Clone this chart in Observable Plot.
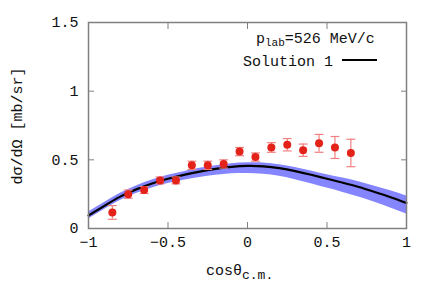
<!DOCTYPE html>
<html><head><meta charset="utf-8">
<script src="https://cdn.jsdelivr.net/npm/d3@7"></script>
<script src="https://cdn.jsdelivr.net/npm/@observablehq/plot@0.6"></script>
<style>
body{margin:0;background:#fff;}
#wrap{position:relative;width:436px;height:305px;font-family:"Liberation Mono",monospace;}
.leg{position:absolute;font-size:15px;color:#111;white-space:nowrap;}
</style></head>
<body><div id="wrap"></div>
<script>
// experimental data
const cosData = [-0.85,-0.75,-0.65,-0.55,-0.45,-0.35,-0.25,-0.15,-0.05,0.05,0.15,0.25,0.35,0.45,0.55,0.65];
const xsData  = [0.117,0.25,0.28,0.35,0.35,0.46,0.46,0.47,0.56,0.52,0.59,0.61,0.57,0.62,0.59,0.55];
const errData = [0.05,0.03,0.025,0.025,0.025,0.03,0.03,0.03,0.03,0.03,0.035,0.045,0.045,0.065,0.08,0.1];
// Solution 1 curve and its uncertainty band
const cosCurve = [-1,-0.9,-0.8,-0.7,-0.6,-0.5,-0.4,-0.3,-0.2,-0.1,0,0.1,0.2,0.3,0.4,0.5,0.6,0.7,0.8,0.9,1];
const sol1     = [0.095,0.165,0.232,0.285,0.328,0.362,0.39,0.414,0.434,0.449,0.456,0.453,0.44,0.418,0.391,0.362,0.333,0.302,0.266,0.228,0.186];
const bandLo   = [0.07,0.138,0.203,0.254,0.295,0.327,0.351,0.371,0.387,0.398,0.401,0.395,0.38,0.355,0.326,0.294,0.263,0.229,0.191,0.15,0.106];
const bandHi   = [0.12,0.19,0.257,0.31,0.353,0.387,0.414,0.438,0.457,0.472,0.478,0.477,0.465,0.445,0.419,0.392,0.367,0.34,0.308,0.274,0.236];
const xTicks = [-1,-0.5,0,0.5,1];
const yTicks = [0,0.5,1,1.5];

const pts = cosData.map((c,i)=>({x:c,y:xsData[i],lo:xsData[i]-errData[i],hi:xsData[i]+errData[i]}));
const curve = cosCurve.map((c,i)=>({x:c,y:sol1[i],lo:bandLo[i],hi:bandHi[i]}));
const cap = {draw(ctx,size){const r=Math.sqrt(size);ctx.moveTo(-r,0);ctx.lineTo(r,0);}};
const axisColor="#808080";
const fnt = {fontFamily:"Liberation Mono, monospace", fontSize:15, fill:"#111"};

const chart = Plot.plot({
  width:436, height:305,
  marginLeft:88, marginRight:30, marginTop:22, marginBottom:77,
  x:{domain:[-1,1]}, y:{domain:[0,1.5]},
  style:{fontFamily:"Liberation Mono, monospace", fontSize:"15px", color:"#111", background:"#fff"},
  marks:[
    Plot.areaY(curve,{x:"x",y1:"lo",y2:"hi",fill:"#8585ff",curve:"natural"}),
    Plot.line(curve,{x:"x",y:"y",stroke:"#000",strokeWidth:2.2,curve:"natural"}),
    Plot.ruleX(pts,{x:"x",y1:"lo",y2:"hi",stroke:"#f08080",strokeWidth:1.2}),
    Plot.dot(pts,{x:"x",y:"lo",symbol:cap,r:2.5,stroke:"#f08080",strokeWidth:1.2}),
    Plot.dot(pts,{x:"x",y:"hi",symbol:cap,r:2.5,stroke:"#f08080",strokeWidth:1.2}),
    Plot.dot(pts,{x:"x",y:"y",r:4,fill:"#e3221a",stroke:"none"}),
    Plot.frame({stroke:axisColor,strokeWidth:1.5}),
    Plot.axisX({ticks:xTicks,tickSize:-6,text:null,stroke:axisColor,label:null}),
    Plot.axisX({ticks:xTicks,anchor:"top",tickSize:-6,text:null,stroke:axisColor,label:null}),
    Plot.axisY({ticks:yTicks,tickSize:-6,text:null,stroke:axisColor,label:null}),
    Plot.axisY({ticks:yTicks,anchor:"right",tickSize:-6,text:null,stroke:axisColor,label:null}),
    Plot.axisX({ticks:xTicks,tickSize:0,tickPadding:8,label:null,tickFormat:d=>String(d).replace("-","\u2212"),...fnt}),
    Plot.axisY({ticks:yTicks,tickSize:0,tickPadding:10,label:null,tickFormat:d=>String(d),...fnt})
  ]
});
const wrap=document.getElementById("wrap");
wrap.appendChild(chart);

function addDiv(html,style){const d=document.createElement("div");d.className="leg";d.innerHTML=html;Object.assign(d.style,style);wrap.appendChild(d);}
addDiv('p<sub style="font-size:11px;vertical-align:-3px">lab</sub>=526 MeV/c',{left:"256px",top:"31px"});
addDiv('Solution 1 <svg width="36" height="10" style="vertical-align:1px"><line x1="0" y1="5" x2="35" y2="5" stroke="#000" stroke-width="2"/></svg>',{left:"243px",top:"54px"});
addDiv('cos&theta;<sub style="font-size:13px;vertical-align:-4px">c.m.</sub>',{left:"206px",top:"263px"});
addDiv('d&sigma;/d&Omega; [mb/sr]',{left:"18px",top:"126px",transform:"translate(-50%,-50%) rotate(-90deg)",transformOrigin:"center",fontSize:"15px"});
</script></body></html>
